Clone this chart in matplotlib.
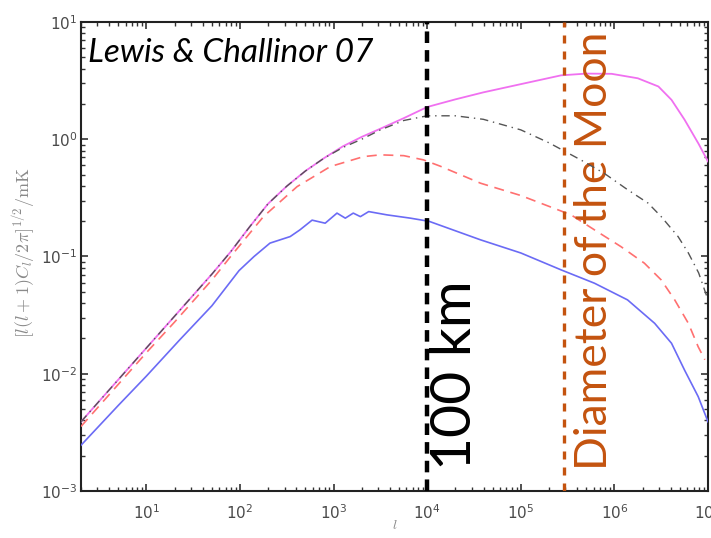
import matplotlib
matplotlib.use("Agg")
import matplotlib.pyplot as plt
import matplotlib.transforms as mtransforms

# All values as log10(l) and log10([l(l+1)C_l/2pi]^(1/2) / mK)
logl_total = [0.301, 0.5, 0.7, 1.0, 1.3, 1.5, 1.7, 1.9, 2.1, 2.3, 2.5, 2.7, 2.9,
              3.1, 3.3, 3.5, 3.75, 4.0, 4.3, 4.6, 5.0, 5.43, 5.7, 5.97, 6.25,
              6.47, 6.61, 6.75, 6.9, 7.0]
logv_total = [-2.41, -2.23, -2.05, -1.78, -1.51, -1.33, -1.15, -0.96, -0.75,
              -0.55, -0.40, -0.27, -0.16, -0.06, 0.02, 0.09, 0.18, 0.275, 0.34,
              0.40, 0.47, 0.545, 0.56, 0.558, 0.52, 0.45, 0.336, 0.166, -0.04, -0.19]

logl_gray = [0.301, 0.5, 0.7, 1.0, 1.3, 1.5, 1.7, 1.9, 2.1, 2.3, 2.5, 2.7, 2.9,
             3.1, 3.3, 3.5, 3.75, 4.0, 4.3, 4.6, 5.0, 5.3, 5.64, 5.89, 6.14,
             6.36, 6.5, 6.68, 6.79, 6.9, 7.0]
logv_gray = [-2.41, -2.23, -2.05, -1.78, -1.51, -1.33, -1.15, -0.96, -0.75,
             -0.55, -0.40, -0.27, -0.16, -0.07, 0.0, 0.08, 0.16, 0.20, 0.20,
             0.17, 0.08, -0.03, -0.176, -0.29, -0.43, -0.545, -0.66, -0.83,
             -0.97, -1.14, -1.37]

logl_red = [0.301, 0.7, 1.0, 1.3, 1.7, 1.9, 2.25, 2.61, 2.965, 3.32, 3.5, 3.75,
            3.96, 4.14, 4.57, 5.0, 5.537, 5.787, 6.07, 6.32, 6.5, 6.644, 6.79,
            6.895, 6.966]
logv_red = [-2.45, -2.09, -1.82, -1.56, -1.2, -1.0, -0.66, -0.404, -0.233,
            -0.148, -0.133, -0.14, -0.176, -0.23, -0.375, -0.48, -0.645, -0.773,
            -0.916, -1.057, -1.2, -1.37, -1.57, -1.77, -1.88]

logl_blue = [0.301, 0.7, 1.0, 1.357, 1.7, 1.99, 2.15, 2.32, 2.536, 2.64, 2.77,
             2.91, 3.036, 3.125, 3.21, 3.286, 3.375, 3.57, 3.82, 4.02, 4.57, 5.0,
             5.43, 5.787, 6.14, 6.43, 6.61, 6.75, 6.895, 7.0]
logv_blue = [-2.61, -2.27, -2.02, -1.71, -1.42, -1.12, -1.0, -0.886, -0.83,
             -0.773, -0.69, -0.716, -0.63, -0.673, -0.63, -0.66, -0.617, -0.645,
             -0.673, -0.70, -0.858, -0.97, -1.114, -1.228, -1.37, -1.57, -1.74,
             -1.97, -2.195, -2.41]

l_100km = 1e4
l_moon = 2.9e5


def unlog(a):
    return [10 ** e for e in a]


fig = plt.figure(figsize=(7.11, 5.38), dpi=100)
ax = fig.add_axes([0.1139, 0.0874, 0.8819, 0.8717])

ax.plot(unlog(logl_blue), unlog(logv_blue), color="#6b6bf5", lw=1.2, zorder=3)
ax.plot(unlog(logl_red), unlog(logv_red), color="#ff7070", lw=1.2, ls=(0, (6, 4)), zorder=3)
ax.plot(unlog(logl_total), unlog(logv_total), color="#f070f0", lw=1.3, zorder=3)
ax.plot(unlog(logl_gray), unlog(logv_gray), color="#555555", lw=1.0,
        ls=(0, (6, 3.5, 1, 3.5)), zorder=4)

ax.axvline(l_100km, color="black", lw=3.2, ls=(0, (2.6, 1.6)), zorder=5)
ax.axvline(l_moon, color="#c4530f", lw=2.4, ls=(0, (2.4, 2.4)), zorder=5)

ax.set_xscale("log")
ax.set_yscale("log")
ax.set_xlim(2, 1e7)
ax.set_ylim(1e-3, 1e1)

for s in ax.spines.values():
    s.set_linewidth(1.5)
    s.set_color("#222222")

ax.tick_params(which="both", direction="in", top=True, right=True, colors="#333333")
ax.tick_params(which="major", length=5, width=1.2, labelsize=11, labelcolor="#4a4a4a")
ax.tick_params(axis="x", which="major", pad=9)
ax.tick_params(axis="y", which="major", pad=2.5)
ax.tick_params(which="minor", length=3, width=1.0)
ax.set_yticks([1e-3, 1e-2, 1e-1, 1e0, 1e1])
ax.set_xticks([1e1, 1e2, 1e3, 1e4, 1e5, 1e6, 1e7])

ax.set_ylabel(r"$[l(l+1)C_l/2\pi]^{1/2}/\mathrm{mK}$", color="#8a8a8a", fontsize=13,
              math_fontfamily="cm")
ax.yaxis.label.set_va("center")
ax.yaxis.set_label_coords(-0.091, 0.508)
ax.set_xlabel(r"$l$", color="#8a8a8a", fontsize=10, math_fontfamily="cm")
ax.xaxis.set_label_coords(0.5, -0.058)

ax.text(0.011, 0.915, "Lewis & Challinor 07", transform=ax.transAxes,
        fontsize=24, fontstyle="italic", family="Lato", color="black",
        ha="left", va="baseline")

trans = mtransforms.blended_transform_factory(ax.transData, ax.transAxes)
ax.text(2.0e4, 0.045, "100 km", transform=trans, rotation=90, fontsize=41,
        family="Lato", color="black", ha="center", va="bottom")
ax.text(6.2e5, 0.045, "Diameter of the Moon", transform=trans, rotation=90,
        fontsize=32, family="Lato", color="#c4530f", ha="center", va="bottom")

fig.savefig("out.png", dpi=100)
